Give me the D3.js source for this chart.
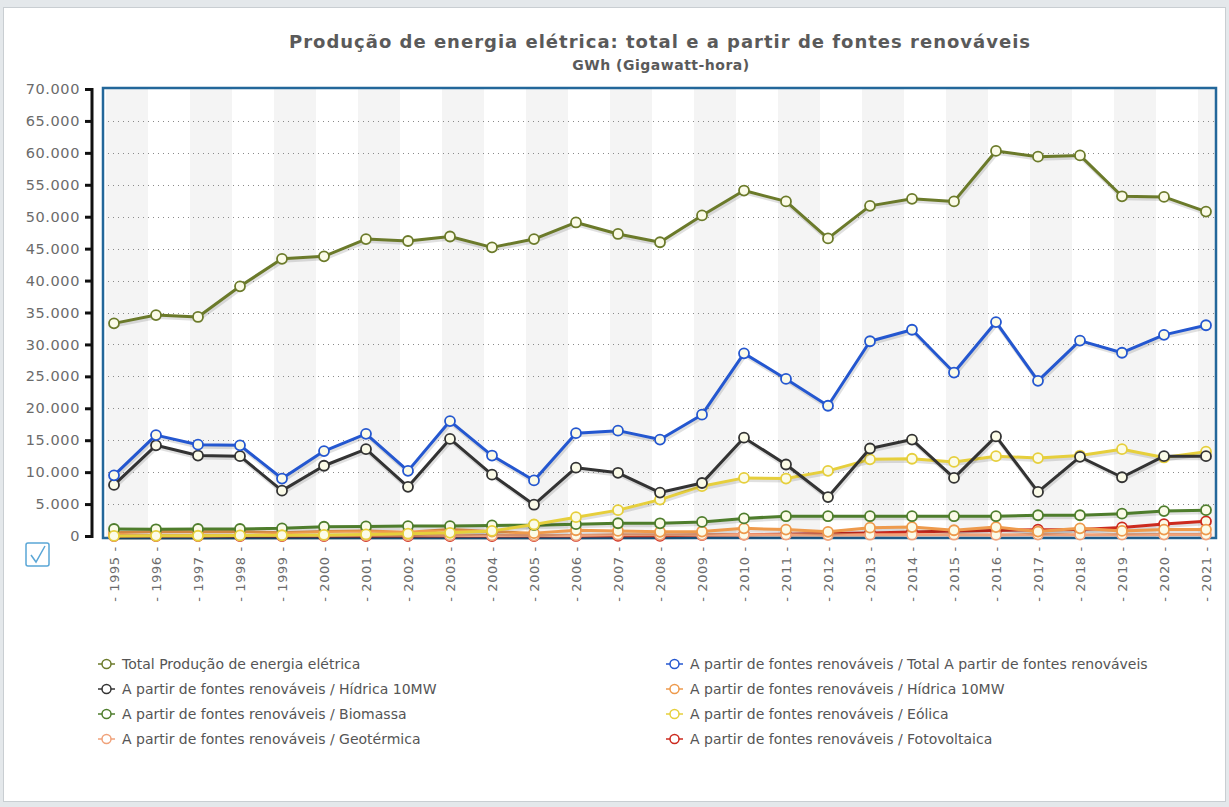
<!DOCTYPE html>
<html>
<head>
<meta charset="utf-8">
<script src="https://cdnjs.cloudflare.com/ajax/libs/d3/7.8.5/d3.min.js"></script>
<style>
  body { margin: 0; background: #e4e8eb; }
  svg { display: block; }
</style>
</head>
<body>
<div id="graph"></div>
<script>
// chart data (GWh)
var years = ['1995','1996','1997','1998','1999','2000','2001','2002','2003','2004','2005','2006','2007',
             '2008','2009','2010','2011','2012','2013','2014','2015','2016','2017','2018','2019','2020','2021'];

var totalProducao = [33300,34600,34300,39100,43400,43800,46500,46200,46900,45200,46500,49100,47300,
                     46000,50200,54100,52400,46600,51700,52800,52400,60300,59400,59600,53200,53100,50800];
var totalRenovaveis = [9500,15800,14300,14200,9000,13300,16000,10200,18000,12600,8700,16100,16500,
                       15100,19000,28600,24600,20400,30500,32300,25600,33500,24300,30600,28700,31500,33000];
var hidricaGrande = [8000,14200,12600,12500,7100,11000,13600,7700,15200,9600,4900,10700,9900,
                     6800,8300,15400,11200,6100,13700,15100,9100,15600,6900,12400,9200,12500,12500];
var hidricaPequena = [500,700,650,700,500,700,800,600,1000,700,450,900,800,
                      650,700,1200,1000,650,1300,1400,900,1400,700,1200,800,1000,1000];
var biomassa = [1100,1050,1100,1100,1200,1450,1500,1550,1550,1650,1700,1850,2000,
                1990,2200,2750,3100,3100,3100,3100,3100,3100,3250,3250,3500,3900,4050];
var eolica = [15,20,40,90,120,170,250,360,500,800,1800,2950,4050,
              5700,7800,9100,9000,10200,12000,12100,11600,12500,12200,12600,13600,12300,13200];
var geotermica = [40,50,50,60,80,80,100,100,90,90,70,90,200,
                  190,180,200,210,150,200,200,200,170,220,210,210,220,220];
var fotovoltaica = [1,1,1,1,1,1,2,2,3,3,3,5,20,
                    40,160,215,280,390,480,630,800,870,990,1000,1340,1870,2300];

var seriesNames = ['Total Produção de energia elétrica',
                   'A partir de fontes renováveis / Total A partir de fontes renováveis',
                   'A partir de fontes renováveis / Hídrica 10MW',
                   'A partir de fontes renováveis / Hídrica 10MW',
                   'A partir de fontes renováveis / Biomassa',
                   'A partir de fontes renováveis / Eólica',
                   'A partir de fontes renováveis / Geotérmica',
                   'A partir de fontes renováveis / Fotovoltaica'];
var seriesColors = ['#6b7a2a', '#2457d0', '#333333', '#ee9a4c', '#4e7d2c', '#e6cf3c', '#f0a27a', '#cc2a1e'];
var yTicks = [0,5000,10000,15000,20000,25000,30000,35000,40000,45000,50000,55000,60000,65000,70000];

window.onload = start;

function start() {
    var width = 1229, height = 807;
    var frame = {left: 103, right: 1216, top: 88, bottom: 538};

    var svg = d3.select('#graph').append('svg')
        .attr('width', width).attr('height', height)
        .style('font-family', '"DejaVu Sans", Verdana, sans-serif');

    // page panel
    svg.append('rect').attr('x', 0).attr('y', 0).attr('width', width).attr('height', height).attr('fill', '#e4e8eb');
    svg.append('rect').attr('x', 3.5).attr('y', 7.5).attr('width', 1222).attr('height', 794)
        .attr('fill', '#fff').attr('stroke', '#c9ced2');

    var x = d3.scalePoint().domain(years).range([114, 1206]);
    var y = d3.scaleLinear().domain([0, 70000]).range([536, 89]);
    var step = x.step();

    // alternating column shading
    svg.append('g').selectAll('rect')
        .data(years.filter(function(d, i) { return i % 2 === 0; }))
        .enter().append('rect')
        .attr('x', function(d) { return Math.max(frame.left, x(d) - 8); })
        .attr('y', frame.top)
        .attr('width', function(d) { return Math.min(frame.right, x(d) - 8 + step) - Math.max(frame.left, x(d) - 8); })
        .attr('height', frame.bottom - frame.top)
        .attr('fill', '#f4f4f4');

    // dotted grid lines
    svg.append('g').selectAll('line')
        .data(yTicks.slice(1, -1))
        .enter().append('line')
        .attr('x1', frame.left).attr('x2', frame.right)
        .attr('y1', function(d) { return Math.round(y(d)) + 0.5; })
        .attr('y2', function(d) { return Math.round(y(d)) + 0.5; })
        .attr('stroke', '#8a8a8a').attr('stroke-dasharray', '1,4');

    // frame
    svg.append('rect')
        .attr('x', frame.left).attr('y', frame.top)
        .attr('width', frame.right - frame.left).attr('height', frame.bottom - frame.top)
        .attr('fill', 'none').attr('stroke', '#23679a').attr('stroke-width', 2.5);

    // y axis
    var yAxis = d3.axisLeft(y).tickValues(yTicks).tickSize(7).tickPadding(5)
        .tickFormat(function(d) { return d === 0 ? '0' : d3.format(',')(d).replace(/,/g, '.'); });
    var yg = svg.append('g').attr('transform', 'translate(92,0)').call(yAxis);
    yg.select('.domain').attr('stroke', '#111').attr('stroke-width', 3).attr('d', 'M0,88V538');
    yg.selectAll('.tick line').attr('stroke', '#111').attr('stroke-width', 3);
    yg.selectAll('.tick text').attr('fill', '#6b6b6b').style('font-size', '14.5px').style('letter-spacing', '0.6px')
        .style('font-family', '"DejaVu Sans", Verdana, sans-serif');

    // x labels, rotated
    svg.append('g').selectAll('text')
        .data(years)
        .enter().append('text')
        .attr('transform', function(d) { return 'translate(' + (x(d) + 5) + ',574) rotate(-90)'; })
        .attr('text-anchor', 'middle')
        .attr('fill', '#6b6b6b')
        .style('font-size', '13px')
        .style('letter-spacing', '0.6px')
        .text(function(d) { return '- ' + d + ' -'; });

    // series lines
    var allSeries = [totalProducao, totalRenovaveis, hidricaGrande, hidricaPequena, biomassa, eolica, geotermica, fotovoltaica];
    var line = d3.line()
        .x(function(d, i) { return x(years[i]); })
        .y(function(d) { return y(d); });

    var drawOrder = [7, 6, 3, 4, 5, 2, 1, 0];
    var plot = svg.append('g');
    drawOrder.forEach(function(k) {
        var g = plot.append('g');
        g.append('path').datum(allSeries[k])
            .attr('d', line).attr('fill', 'none')
            .attr('stroke', '#000').attr('stroke-opacity', 0.12).attr('stroke-width', 4)
            .attr('transform', 'translate(1,2)');
        g.append('path').datum(allSeries[k])
            .attr('d', line).attr('fill', 'none')
            .attr('stroke', seriesColors[k]).attr('stroke-width', 3)
            .attr('stroke-linejoin', 'round');
        g.selectAll('circle').data(allSeries[k]).enter().append('circle')
            .attr('cx', function(d, i) { return x(years[i]); })
            .attr('cy', function(d) { return y(d); })
            .attr('r', 5)
            .attr('fill', '#fbfbe8')
            .attr('stroke', seriesColors[k]).attr('stroke-width', 1.8);
    });

    // checkbox icon
    var cb = svg.append('g').attr('transform', 'translate(26,543)');
    cb.append('rect').attr('width', 23).attr('height', 23).attr('rx', 2)
        .attr('fill', '#fff').attr('stroke', '#5aa6d6').attr('stroke-width', 1.5);
    cb.append('path').attr('d', 'M5,12 L10,19 L19,3').attr('fill', 'none')
        .attr('stroke', '#5aa6d6').attr('stroke-width', 1.5);

    // title
    svg.append('text').attr('x', 660).attr('y', 48).attr('text-anchor', 'middle')
        .attr('fill', '#5a5a5a').style('font-size', '18px').style('font-weight', 'bold')
        .style('letter-spacing', '1px')
        .text('Produção de energia elétrica: total e a partir de fontes renováveis');
    svg.append('text').attr('x', 661).attr('y', 70).attr('text-anchor', 'middle')
        .attr('fill', '#5a5a5a').style('font-size', '14px').style('font-weight', 'bold')
        .style('letter-spacing', '0.5px')
        .text('GWh (Gigawatt-hora)');

    // legend: two columns, left column series 0,2,4,6 and right column 1,3,5,7
    var legend = svg.append('g');
    allSeries.forEach(function(s, k) {
        var col = k % 2, row = Math.floor(k / 2);
        var lx = col === 0 ? 98 : 666, ly = 664 + row * 25;
        var item = legend.append('g').attr('transform', 'translate(' + lx + ',' + ly + ')');
        item.append('line').attr('x1', 0).attr('x2', 17).attr('y1', 0).attr('y2', 0)
            .attr('stroke', seriesColors[k]).attr('stroke-width', 1.5);
        item.append('circle').attr('cx', 8.5).attr('cy', 0).attr('r', 4.5)
            .attr('fill', '#fff').attr('stroke', seriesColors[k]).attr('stroke-width', 1.5);
        item.append('text').attr('x', 24).attr('y', 5)
            .attr('fill', '#555').style('font-size', '14px')
            .text(seriesNames[k]);
    });
}
</script>
</body>
</html>
